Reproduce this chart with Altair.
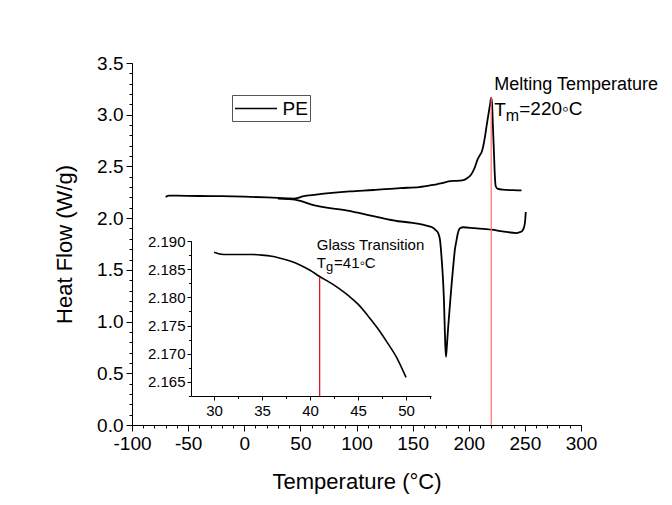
import altair as alt
import pandas as pd

# ---------------- data ----------------
heat_T = [-70, -67, -60, -40, -20, 0, 20, 30, 40, 44, 48, 52, 64, 94, 115, 139, 156, 170, 175, 182,
          186, 192, 196, 199, 202, 205, 208, 210, 211.5, 213, 214.5, 216, 217.5, 219, 220, 220.8,
          221.5, 222.5, 223.3, 224, 225.5, 230, 240, 247]
heat_H = [2.205, 2.218, 2.217, 2.214, 2.212, 2.208, 2.200, 2.195, 2.190, 2.189, 2.196, 2.210, 2.227,
          2.258, 2.272, 2.291, 2.300, 2.325, 2.335, 2.355, 2.360, 2.362, 2.370, 2.390, 2.420, 2.480,
          2.570, 2.610, 2.640, 2.700, 2.790, 2.900, 3.000, 3.100, 3.165, 3.100, 2.900, 2.620, 2.400,
          2.310, 2.285, 2.275, 2.270, 2.268]

cool_T = [30, 35, 40, 45, 50, 60, 92, 115, 137, 150, 160, 165, 168.4, 170.5, 172.8, 174.5, 175.9,
          177, 177.9, 179, 179.7, 180.6, 181.7, 183.3, 184.8, 186.3, 187.7, 189, 190, 191, 192.5,
          195, 205, 220.4, 230, 242.7, 245, 247.5, 249.2, 250.2, 250.8]
cool_H = [2.188, 2.1875, 2.185, 2.179, 2.166, 2.130, 2.073, 2.020, 1.970, 1.955, 1.935, 1.920,
          1.905, 1.885, 1.855, 1.780, 1.600, 1.420, 1.210, 0.800, 0.660, 0.780, 0.950, 1.170, 1.370,
          1.550, 1.700, 1.780, 1.840, 1.880, 1.905, 1.912, 1.903, 1.888, 1.872, 1.856, 1.862, 1.875,
          1.910, 1.970, 2.060]

inset_T = [30, 31, 32, 33, 34, 35, 36, 37, 38, 39, 40, 41, 42, 43, 44, 45, 46, 47, 48, 49, 50]
inset_H = [2.1880, 2.1876, 2.1876, 2.1876, 2.1876, 2.1875, 2.1873, 2.1869, 2.1864, 2.1857, 2.1848,
           2.1837, 2.1827, 2.1816, 2.1803, 2.1788, 2.1768, 2.1746, 2.1721, 2.1694, 2.1658]

x_ticks = [-100, -50, 0, 50, 100, 150, 200, 250, 300]
y_ticks = [0.0, 0.5, 1.0, 1.5, 2.0, 2.5, 3.0, 3.5]
x_minor = list(range(-100, 301, 10))
y_minor = [round(i * 0.1, 1) for i in range(36)]
in_x_ticks = [30, 35, 40, 45, 50]
in_y_ticks = [2.165, 2.170, 2.175, 2.180, 2.185, 2.190]
in_x_minor = [27.5, 30, 32.5, 35, 37.5, 40, 42.5, 45, 47.5, 50, 52.5]
in_y_minor = [2.1625, 2.165, 2.1675, 2.170, 2.1725, 2.175, 2.1775, 2.180, 2.1825, 2.185, 2.1875, 2.190]

melt_T, melt_top = 220, 3.17
glass_T, glass_top = 41, 2.1836

# ---------------- build ----------------
FONT = "Liberation Sans"
W, H = 449, 362

df = pd.concat([
    pd.DataFrame({"T": heat_T, "H": heat_H, "seg": "heat", "series": "PE"}),
    pd.DataFrame({"T": cool_T, "H": cool_H, "seg": "cool", "series": "PE"}),
])
df_in = pd.DataFrame({"T": inset_T, "H": inset_H})

xs = alt.Scale(domain=[-100, 300], nice=False, zero=False)
ys = alt.Scale(domain=[0, 3.5], nice=False, zero=False)
xs_in = alt.Scale(domain=[27.6, 52.6], range=[59, 299], nice=False, zero=False)
ys_in = alt.Scale(domain=[2.1625, 2.19], range=[333, 178], nice=False, zero=False)

HYPHEN = "datum.value < 0 ? '-' + abs(datum.value) : '' + datum.value"

main_line = alt.Chart(df).mark_line(strokeWidth=1.8, interpolate="monotone").encode(
    x=alt.X("T:Q", scale=xs, axis=alt.Axis(
        orient="bottom", values=x_ticks, labelExpr=HYPHEN, title="Temperature (°C)",
        tickSize=6, labelFontSize=19, titleFontSize=22, labelPadding=3, titlePadding=18,
        titleFontWeight="normal", grid=False, labelFlush=False, labelOverlap=False)),
    y=alt.Y("H:Q", scale=ys, axis=alt.Axis(
        orient="left", values=y_ticks, format=".1f", title="Heat Flow (W/g)",
        tickSize=6, labelFontSize=19, titleFontSize=22, labelPadding=3, titlePadding=20,
        titleFontWeight="normal", grid=False, labelFlush=False, labelOverlap=False)),
    color=alt.Color("series:N", scale=alt.Scale(range=["black"]), legend=alt.Legend(
        title=None, orient="none", legendX=100, legendY=32, symbolType="M-2,0H2",
        symbolSize=441, symbolStrokeWidth=1.5, symbolOffset=10.5, labelFontSize=19,
        labelFont=FONT, labelColor="black", strokeColor="#555555", fillColor="white",
        padding=2, labelOffset=15)),
    detail="seg:N",
)

main_rule = alt.Chart(pd.DataFrame({"x": [melt_T], "y": [0], "y2": [melt_top]})).mark_rule(
    color="#ff6e6e", strokeWidth=1.2).encode(
    x=alt.X("x:Q", scale=xs, axis=alt.Axis(
        orient="bottom", values=x_minor, labels=False, tickSize=3, domain=False,
        title=None, grid=False)),
    y=alt.Y("y:Q", scale=ys, axis=alt.Axis(
        orient="left", values=y_minor, labels=False, tickSize=3, domain=False,
        title=None, grid=False)),
    y2="y2:Q",
)

inset_line = alt.Chart(df_in).mark_line(strokeWidth=1.6, color="black", interpolate="monotone").encode(
    x=alt.X("T:Q", scale=xs_in, axis=alt.Axis(
        orient="bottom", offset=-29, values=in_x_ticks, format="d", title=None,
        tickSize=4, labelFontSize=15, labelPadding=3, grid=False, labelFlush=False)),
    y=alt.Y("H:Q", scale=ys_in, axis=alt.Axis(
        orient="left", offset=-59, values=in_y_ticks, format=".3f", title=None,
        tickSize=4, labelFontSize=15, labelPadding=2, grid=False, labelFlush=False)),
)

inset_rule = alt.Chart(pd.DataFrame({"x": [glass_T], "y": [2.1625], "y2": [glass_top]})).mark_rule(
    color="#e8141e", strokeWidth=1.3).encode(
    x=alt.X("x:Q", scale=xs_in, axis=alt.Axis(
        orient="bottom", offset=-29, values=in_x_minor, labels=False, tickSize=2.5,
        domain=False, title=None, grid=False)),
    y=alt.Y("y:Q", scale=ys_in, axis=alt.Axis(
        orient="left", offset=-59, values=in_y_minor, labels=False, tickSize=2.5,
        domain=False, title=None, grid=False)),
    y2="y2:Q",
)


def label(text, x, y, size, xscale, yscale):
    return alt.Chart(pd.DataFrame({"x": [x], "y": [y], "t": [text]})).mark_text(
        align="left", baseline="middle", fontSize=size, font=FONT, color="black").encode(
        x=alt.X("x:Q", scale=xscale, axis=None),
        y=alt.Y("y:Q", scale=yscale, axis=None),
        text="t:N",
    )


texts = [
    label("Melting Temperature", 222.7, 3.29, 18, xs, ys),
    label("T", 222.7, 3.05, 19, xs, ys),
    label("m", 233.0, 2.99, 16, xs, ys),
    label("=220◦C", 245.0, 3.06, 19, xs, ys),
    label("Glass Transition", 40.7, 2.1893, 15, xs_in, ys_in),
    label("T", 40.7, 2.1861, 15, xs_in, ys_in),
    label("g", 41.65, 2.1853, 13, xs_in, ys_in),
    label("=41◦C", 42.5, 2.1861, 15, xs_in, ys_in),
]

chart = alt.layer(main_line, main_rule, inset_line, inset_rule, *texts).resolve_scale(
    x="independent", y="independent"
).resolve_axis(
    x="independent", y="independent"
).properties(
    width=W, height=H,
    background="white",
    autosize=alt.AutoSizeParams(type="none"),
    padding={"left": 124, "top": 55, "right": 83, "bottom": 72},
).configure_view(stroke=None).configure_axis(
    labelFont=FONT, titleFont=FONT, labelColor="black", titleColor="black",
    domainColor="black", tickColor="black", titleFontWeight="normal", domainWidth=1,
    tickWidth=1,
)

chart.save("out.html", embed_options={"renderer": "svg", "actions": False})
